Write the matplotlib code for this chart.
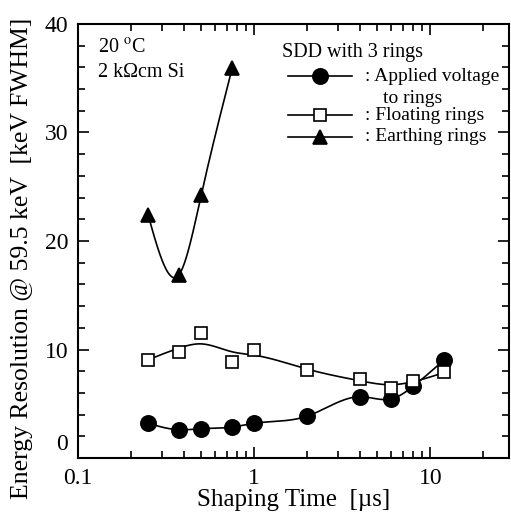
import matplotlib
matplotlib.use("Agg")
import matplotlib.pyplot as plt
import numpy as np
from matplotlib.ticker import FixedLocator, NullFormatter, LogLocator

plt.rcParams['font.family'] = ['Liberation Serif', 'DejaVu Serif']
plt.rcParams['mathtext.fontset'] = 'stix'

# shaping time [us]
t_applied = [0.25, 0.375, 0.5, 0.75, 1.0, 2.0, 4.0, 6.0, 8.0, 12.0]
e_applied = [3.2, 2.6, 2.7, 2.85, 3.2, 3.85, 5.65, 5.45, 6.6, 9.05]

t_floating = [0.25, 0.375, 0.5, 0.75, 1.0, 2.0, 4.0, 6.0, 8.0, 12.0]
e_floating = [9.0, 9.75, 11.5, 8.85, 9.95, 8.1, 7.3, 6.45, 7.1, 7.95]

t_earthing = [0.25, 0.375, 0.5, 0.75]
e_earthing = [22.4, 16.9, 24.2, 35.9]

y_ticks = [0, 10, 20, 30, 40]
y_ticklabels = ['', '10', '20', '30', '40']


def smooth_curve(x, y, lam, n=400):
    # penalised smoother on log-x, used only for the connecting line
    lx = np.log10(x)
    grid = np.linspace(lx.min(), lx.max(), n)
    idx = np.abs(grid[:, None] - lx[None, :]).argmin(axis=0)
    w = np.zeros(n)
    z = np.zeros(n)
    w[idx] = 1.0
    z[idx] = y
    d = np.diff(np.eye(n), 2, axis=0)
    a = np.diag(w) + lam * d.T @ d
    f = np.linalg.solve(a, w * z)
    return 10 ** grid, f


fig = plt.figure(figsize=(5.11, 5.28), dpi=100)
ax = fig.add_axes([78 / 511, 1 - 458 / 528, 431 / 511, 434 / 528])

series = [
    (t_applied, e_applied, 'o', 'k', 11, 3e0),
    (t_floating, e_floating, 's', 'w', 8, 1e4),
    (t_earthing, e_earthing, '^', 'k', 10, 1e-3),
]
for t, e, m, fc, ms, lam in series:
    t = np.array(t)
    e = np.array(e)
    xs, ys = smooth_curve(t, e, lam)
    ax.plot(xs, ys, '-', color='k', lw=1.2, zorder=2)
    ax.plot(t, e, m, ms=ms, mfc=fc, mec='k', mew=1.2, ls='none', zorder=3)

ax.set_xscale('log')
ax.set_xlim(0.1, 28)
ax.set_ylim(0, 40)
ax.set_xticks([0.1, 1, 10])
ax.set_xticklabels(['0.1', '1', '10'])
ax.xaxis.set_minor_locator(LogLocator(base=10, subs=np.arange(2, 10)))
ax.xaxis.set_minor_formatter(NullFormatter())
ax.set_yticks(y_ticks)
ax.set_yticklabels(y_ticklabels)
ax.yaxis.set_minor_locator(FixedLocator(np.arange(0, 41, 2)))
ax.tick_params(which='both', direction='in', top=True, right=True,
               labelsize=17, width=1.2)
ax.tick_params(which='major', length=8)
ax.tick_params(axis='x', which='major', pad=7)
ax.tick_params(axis='y', which='major', pad=7)
ax.tick_params(which='minor', length=5)
for s in ax.spines.values():
    s.set_linewidth(1.5)

# the "0" label sits a little higher so it clears "0.1"
ax.annotate('0', xy=(0, y_ticks[0]), xycoords=('axes fraction', 'data'),
            xytext=(-7, 10), textcoords='offset points', ha='right',
            va='center', fontsize=17)

ax.set_xlabel('Shaping Time  [µs]', fontsize=18, labelpad=0)
ax.set_ylabel('Energy Resolution @ 59.5 keV  [keV FWHM]', fontsize=18.5)
ax.yaxis.set_label_coords(-0.105, 0.46)

ax.text(0.046, 0.945, '20 $^{\\rm o}$C', transform=ax.transAxes,
        fontsize=14.5, va='center')
ax.text(0.046, 0.889, '2 kΩcm Si', transform=ax.transAxes,
        fontsize=14.5, va='center')

# legend drawn by hand
ax.text(0.473, 0.935, 'SDD with 3 rings', transform=ax.transAxes,
        fontsize=14.5, va='center')
rows = [(0.880, 'o', 'k', 11, ': Applied voltage'),
        (0.790, 's', 'w', 8, ': Floating rings'),
        (0.740, '^', 'k', 10, ': Earthing rings')]
for yy, m, fc, ms, lab in rows:
    ax.plot([0.487, 0.636], [yy, yy], '-', color='k', lw=1.2,
            transform=ax.transAxes)
    ax.plot([0.561], [yy], m, ms=ms, mfc=fc, mec='k', mew=1.2,
            transform=ax.transAxes)
    ax.text(0.666, yy, lab, transform=ax.transAxes, fontsize=14,
            va='center')
ax.text(0.708, 0.829, 'to rings', transform=ax.transAxes, fontsize=14,
        va='center')

fig.savefig('out.png', dpi=100)
